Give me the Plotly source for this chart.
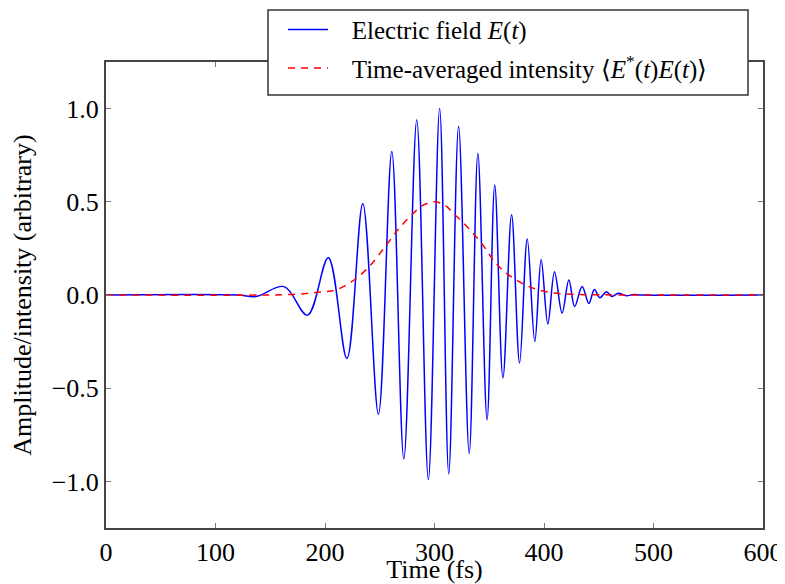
import plotly.graph_objects as go

# Electric field E(t): extrema (time in fs, amplitude)
field_t = [0, 120, 137, 162.7, 184, 203, 220, 234.5, 248.8, 261, 272, 283.8, 294.4,
           304.7, 313, 322, 331.7, 339.6, 348, 355, 362.5, 370.4, 377.7, 384.7,
           391.6, 397.4, 403.5, 409.6, 416.5, 422.7, 428, 434.8, 441, 446, 451,
           457, 462, 468, 475, 482, 490, 600]
field_v = [0, 0, -0.008, 0.045, -0.108, 0.20, -0.34, 0.49, -0.64, 0.77, -0.88, 0.94,
           -0.99, 1.00, -0.96, 0.905, -0.85, 0.76, -0.67, 0.59, -0.445, 0.43, -0.365,
           0.30, -0.25, 0.19, -0.155, 0.125, -0.097, 0.08, -0.062, 0.045, -0.045,
           0.03, -0.015, 0.018, -0.008, 0.01, -0.004, 0.003, 0, 0]

# Time-averaged intensity <E*(t)E(t)>
inten_t = [0, 150, 170, 187, 200, 210, 224, 240, 255, 268, 281, 290, 300, 310, 316,
           330, 344, 356, 370, 388, 406, 425, 450, 600]
inten_v = [0, 0, 0.003, 0.01, 0.018, 0.027, 0.07, 0.15, 0.26, 0.36, 0.44, 0.483, 0.50,
           0.48, 0.445, 0.365, 0.27, 0.17, 0.098, 0.041, 0.013, 0.004, 0.001, 0]

x_ticks = [0, 100, 200, 300, 400, 500, 600]
y_ticks = [-1.0, -0.5, 0.0, 0.5, 1.0]
y_labels = ["\u22121.0", "\u22120.5", "0.0", "0.5", "1.0"]

FONT = "Liberation Serif"

fig = go.Figure()
fig.add_trace(go.Scatter(
    x=field_t, y=field_v, mode="lines", legendgroup="a",
    line=dict(color="#0000ff", width=1.5, shape="spline", smoothing=1.0),
    name="\u00a0\u00a0\u00a0Electric field <i>E</i>(<i>t</i>)"))
fig.add_trace(go.Scatter(
    x=inten_t, y=inten_v, mode="lines", legendgroup="b",
    line=dict(color="#ff0000", width=1.5, dash="7px,6px", shape="spline", smoothing=1.0),
    name="\u00a0\u00a0\u00a0Time-averaged intensity ⟨<i>E</i><sup>*</sup>(<i>t</i>)<i>E</i>(<i>t</i>)⟩"))

def axis_style():
    return dict(
        showline=True, linecolor="#444444", linewidth=2, mirror="allticks",
        ticks="inside", ticklen=5, tickwidth=1, tickcolor="#777777",
        showgrid=False, zeroline=False, ticklabeloverflow="allow",
        tickfont=dict(family=FONT, size=26, color="black"),
    )

# legend frame (white box with dark border, overlapping the top of the axes)
fig.add_shape(type="rect", xref="paper", yref="paper",
              x0=0.2466, x1=0.9772, y0=0.9292, y1=1.1116,
              fillcolor="white", line=dict(color="#333333", width=1.5),
              layer="above")

fig.update_layout(
    template="none",
    width=777, height=576,
    margin=dict(l=98, r=22, t=54, b=56, autoexpand=False),
    paper_bgcolor="white", plot_bgcolor="white",
    font=dict(family=FONT, size=26, color="black"),
    showlegend=True,
    legend=dict(
        x=0.2694, y=1.1185, xanchor="left", yanchor="top",
        bgcolor="rgba(0,0,0,0)", borderwidth=0,
        font=dict(family=FONT, size=25, color="black"),
        itemwidth=40, tracegroupgap=3,
    ),
    xaxis=dict(range=[0, 600], tickvals=x_ticks,
               ticktext=[str(v) for v in x_ticks],
               title=dict(text="Time (fs)", standoff=14,
                          font=dict(family=FONT, size=26, color="black")),
               automargin=False, **axis_style()),
    yaxis=dict(range=[-1.25, 1.25], tickvals=y_ticks, ticktext=y_labels,
               title=dict(text="Amplitude/intensity (arbitrary)", standoff=14,
                          font=dict(family=FONT, size=26, color="black")),
               automargin=False, **axis_style()),
)

fig.write_html("out.html")
